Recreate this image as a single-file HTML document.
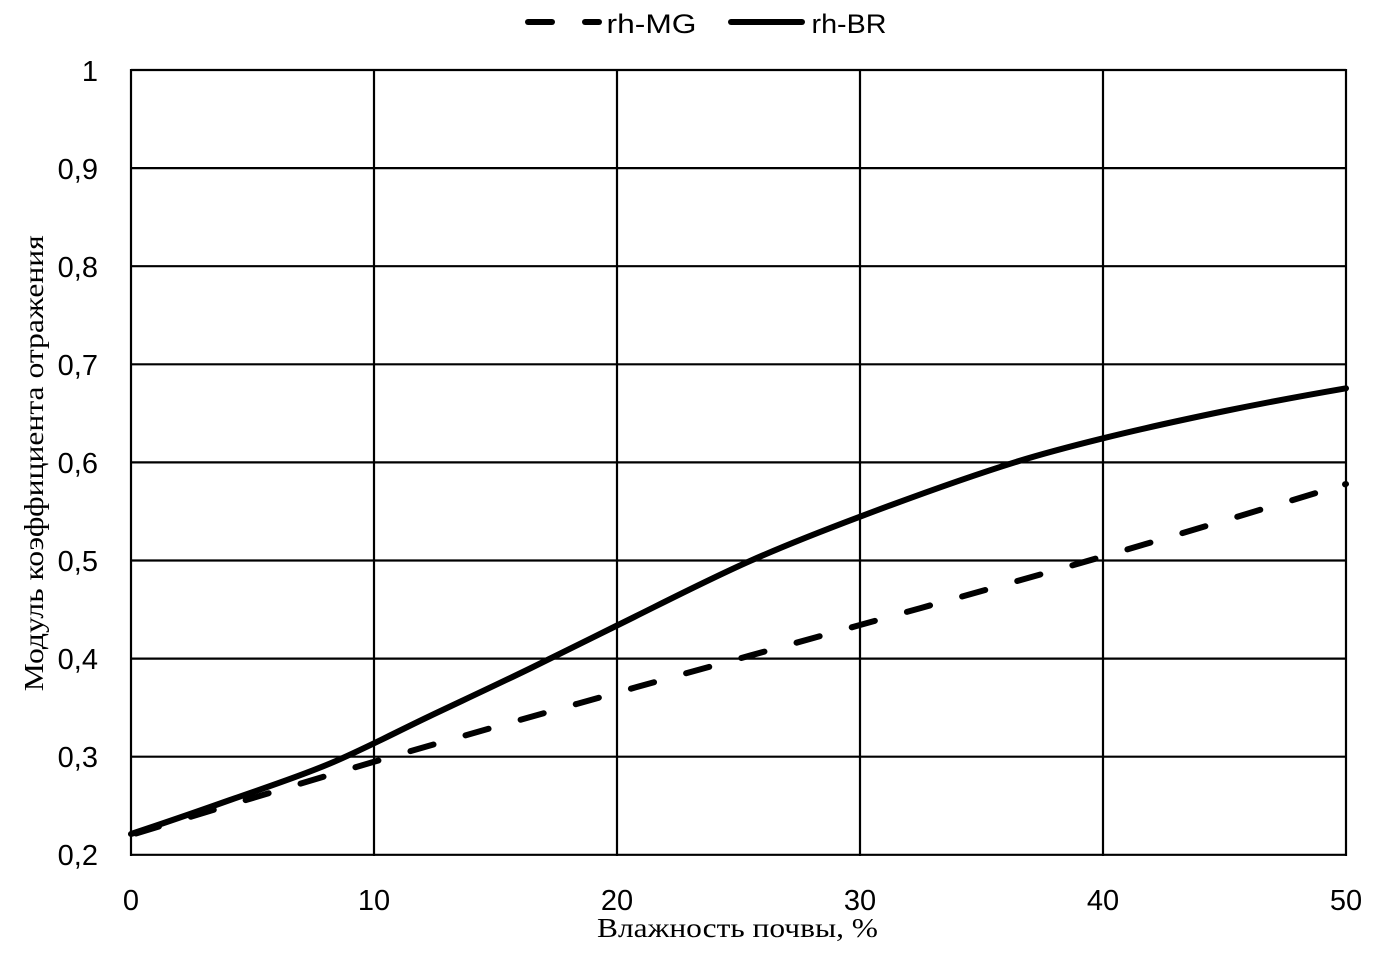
<!DOCTYPE html>
<html>
<head>
<meta charset="utf-8">
<style>
html,body{margin:0;padding:0;background:#fff;}
svg{display:block;}
</style>
</head>
<body>
<svg width="1374" height="957" viewBox="0 0 1374 957" xmlns="http://www.w3.org/2000/svg">
<rect width="1374" height="957" fill="#fff"/>
<!-- grid -->
<g stroke="#000" stroke-width="2.2" fill="none">
<line x1="131" y1="70" x2="1346" y2="70"/>
<line x1="131" y1="168.1" x2="1346" y2="168.1"/>
<line x1="131" y1="266.2" x2="1346" y2="266.2"/>
<line x1="131" y1="364.3" x2="1346" y2="364.3"/>
<line x1="131" y1="462.4" x2="1346" y2="462.4"/>
<line x1="131" y1="560.5" x2="1346" y2="560.5"/>
<line x1="131" y1="658.6" x2="1346" y2="658.6"/>
<line x1="131" y1="756.7" x2="1346" y2="756.7"/>
<line x1="131" y1="854.8" x2="1346" y2="854.8"/>
<line x1="131" y1="69" x2="131" y2="856"/>
<line x1="374" y1="69" x2="374" y2="856"/>
<line x1="617" y1="69" x2="617" y2="856"/>
<line x1="860" y1="69" x2="860" y2="856"/>
<line x1="1103" y1="69" x2="1103" y2="856"/>
<line x1="1346" y1="69" x2="1346" y2="856"/>
</g>
<!-- y tick labels -->
<g font-family="Liberation Sans, sans-serif" font-size="29" fill="#000" text-anchor="end">
<text x="98" y="81">1</text>
<text x="98" y="179">0,9</text>
<text x="98" y="277">0,8</text>
<text x="98" y="375">0,7</text>
<text x="98" y="473">0,6</text>
<text x="98" y="571">0,5</text>
<text x="98" y="669">0,4</text>
<text x="98" y="767">0,3</text>
<text x="98" y="865">0,2</text>
</g>
<!-- x tick labels -->
<g font-family="Liberation Sans, sans-serif" font-size="29" fill="#000" text-anchor="middle">
<text x="131" y="910">0</text>
<text x="374" y="910">10</text>
<text x="617" y="910">20</text>
<text x="860" y="910">30</text>
<text x="1103" y="910">40</text>
<text x="1346" y="910">50</text>
</g>
<!-- axis titles -->
<text x="737.5" y="937" font-family="Liberation Serif, serif" font-size="27" text-anchor="middle" textLength="281" lengthAdjust="spacingAndGlyphs">Влажность почвы, %</text>
<text transform="translate(43,463.3) rotate(-90)" x="0" y="0" font-family="Liberation Serif, serif" font-size="27" text-anchor="middle" textLength="456" lengthAdjust="spacingAndGlyphs">Модуль коэффициента отражения</text>
<!-- series rh-BR solid -->
<path d="M131,834 C164,823.1 197,811.7 230,800 C263.3,788.2 296.7,777.5 330,763.5 C363.3,749.5 396.7,731.8 430,716 C463.3,700.2 496.7,684.7 530,668.5 C559.3,654.3 588.7,639.4 618,625 C662,603.4 706,580.5 750,561 C786.7,544.7 823.3,530.5 860,516.7 C912.2,497 964.5,477.9 1016.7,461.7 C1045.5,452.8 1074.2,445.4 1103,438.3 C1143.7,428.2 1184.3,419.4 1225,411 C1265.3,402.7 1305.7,395.2 1346,388.3" fill="none" stroke="#000" stroke-width="6" stroke-linecap="round" stroke-linejoin="round"/>
<!-- series rh-MG dashed -->
<path d="M131,835 C212,810.3 293,785.6 374,761.8 C455,738 536,715.4 617,692.6 C698,669.8 779,647.7 860,625 C941,602.3 1022,580 1103,556.5 C1184,533 1265,508.3 1346,484" fill="none" stroke="#000" stroke-width="6" stroke-linecap="round" stroke-dasharray="24 33.3" stroke-dashoffset="52.1"/>
<line x1="1345" y1="484.3" x2="1346" y2="484" stroke="#000" stroke-width="6" stroke-linecap="round"/>
<!-- legend -->
<line x1="528" y1="22" x2="552" y2="22" stroke="#000" stroke-width="6" stroke-linecap="round"/>
<line x1="585" y1="22" x2="599" y2="22" stroke="#000" stroke-width="6" stroke-linecap="round"/>
<text x="606.5" y="33" font-family="Liberation Sans, sans-serif" font-size="27" textLength="90" lengthAdjust="spacingAndGlyphs">rh-MG</text>
<line x1="731" y1="22" x2="802" y2="22" stroke="#000" stroke-width="6" stroke-linecap="round"/>
<text x="811.5" y="33" font-family="Liberation Sans, sans-serif" font-size="27" textLength="75" lengthAdjust="spacingAndGlyphs">rh-BR</text>
</svg>
</body>
</html>
